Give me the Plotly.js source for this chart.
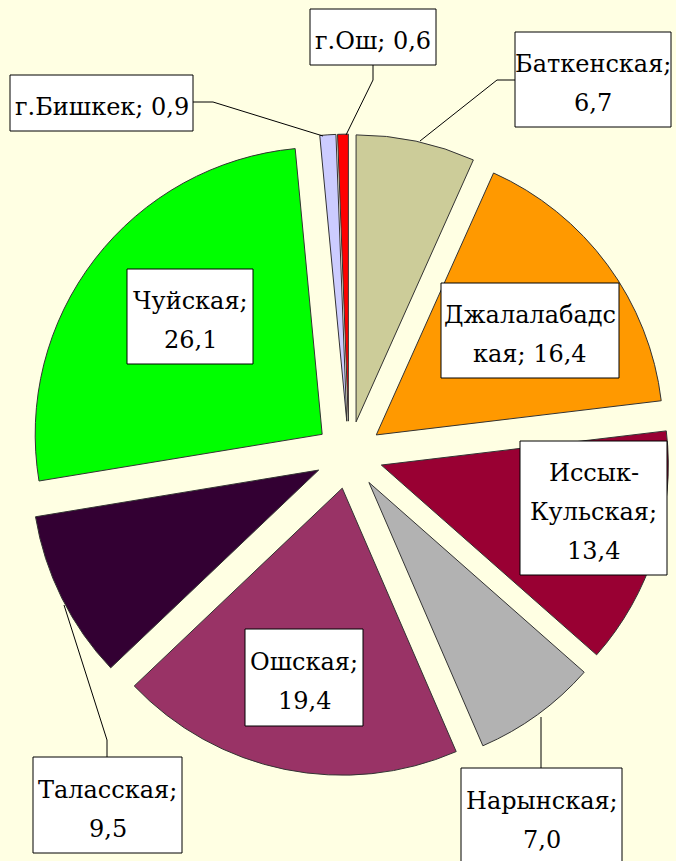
<!DOCTYPE html>
<html>
<head>
<meta charset="utf-8">
<script src="https://cdn.plot.ly/plotly-3.0.1.min.js"></script>
<style>html,body{margin:0;padding:0;background:#FFFFE3;}</style>
</head>
<body>
<div id="chart" style="width:676px;height:861px;"></div>
<script>
// Data
var regions = ["Баткенская", "Джалалабадская", "Иссык-Кульская", "Нарынская", "Ошская", "Таласская", "Чуйская", "г.Бишкек", "г.Ош"];
var shares = [6.7, 16.4, 13.4, 7.0, 19.4, 9.5, 26.1, 0.9, 0.6];
var labelTexts = ["Баткенская;<br>6,7", "Джалалабадс<br>кая; 16,4", "Иссык-<br>Кульская;<br>13,4", "Нарынская;<br>7,0", "Ошская;<br>19,4", "Таласская;<br>9,5", "Чуйская;<br>26,1", "г.Бишкек; 0,9", "г.Ош; 0,6"];
var sliceColors = ["#CCCC99", "#FF9900", "#990033", "#B2B2B2", "#993366", "#330033", "#00FF00", "#CCCCFF", "#FF0000"];

var W = 676, H = 861;
function px(x) { return x / W; }
function py(y) { return 1 - y / H; }

// label boxes: [x0, y0, x1, y1] in pixels
var boxes = [
  [515, 32, 671, 127],
  [441, 283, 619, 378],
  [520, 441, 667, 575],
  [461, 768, 622, 864],
  [245, 629, 363, 726],
  [33, 757, 182, 853],
  [127, 269, 253, 364],
  [10, 75, 193, 131],
  [310, 9, 436, 65]
];
// leader lines in pixels
var leaders = [
  [[515, 80], [497, 80], [420, 141]],
  null, null,
  [[541, 768], [541, 717]],
  null,
  [[107, 757], [107, 740], [64, 605]],
  null,
  [[193, 102], [213, 102], [323, 136]],
  [[373, 65], [373, 80], [346, 135]]
];

var pieR = 287, pullFrac = 0.118, cx = 351, cy = 455;
var half = pieR * (1 + pullFrac);
var serif = "DejaVu Serif";
var fontSize = 24, lineGap = 39;

var trace = {
  type: "pie",
  labels: regions,
  values: shares,
  sort: false,
  direction: "clockwise",
  rotation: 0,
  pull: shares.map(function () { return pullFrac; }),
  marker: { colors: sliceColors, line: { color: "#333333", width: 1 } },
  textinfo: "none",
  hoverinfo: "none",
  showlegend: false,
  domain: { x: [px(cx - half - 2), px(cx + half - 2)], y: [py(cy + half), py(cy - half)] }
};

var shapes = [];
leaders.forEach(function (pts) {
  if (!pts) return;
  var d = pts.map(function (p, k) { return (k ? "L" : "M") + px(p[0]) + "," + py(p[1]); }).join(" ");
  shapes.push({ type: "path", xref: "paper", yref: "paper", path: d, line: { color: "#000000", width: 1 } });
});

var annotations = [];
regions.forEach(function (r, i) {
  var b = boxes[i];
  shapes.push({
    type: "rect", xref: "paper", yref: "paper",
    x0: px(b[0]), x1: px(b[2]), y0: py(b[3]), y1: py(b[1]),
    fillcolor: "#FFFFFF", line: { color: "#000000", width: 1 }
  });
  var lines = labelTexts[i].split("<br>");
  var n = lines.length;
  var mx = (b[0] + b[2]) / 2, my = (b[1] + b[3]) / 2 + 4;
  lines.forEach(function (t, k) {
    annotations.push({
      xref: "paper", yref: "paper",
      x: px(mx), y: py(my + (k - (n - 1) / 2) * lineGap),
      xanchor: "center", yanchor: "middle",
      text: t, showarrow: false,
      font: { family: serif, size: fontSize, color: "#000000" }
    });
  });
});

var layout = {
  width: W, height: H,
  margin: { l: 0, r: 0, t: 0, b: 0 },
  font: { family: serif, size: fontSize, color: "#000000" },
  paper_bgcolor: "#FFFFE3",
  plot_bgcolor: "#FFFFE3",
  showlegend: false,
  shapes: shapes,
  annotations: annotations
};

Plotly.newPlot("chart", [trace], layout, { displayModeBar: false, staticPlot: true });
</script>
</body>
</html>
